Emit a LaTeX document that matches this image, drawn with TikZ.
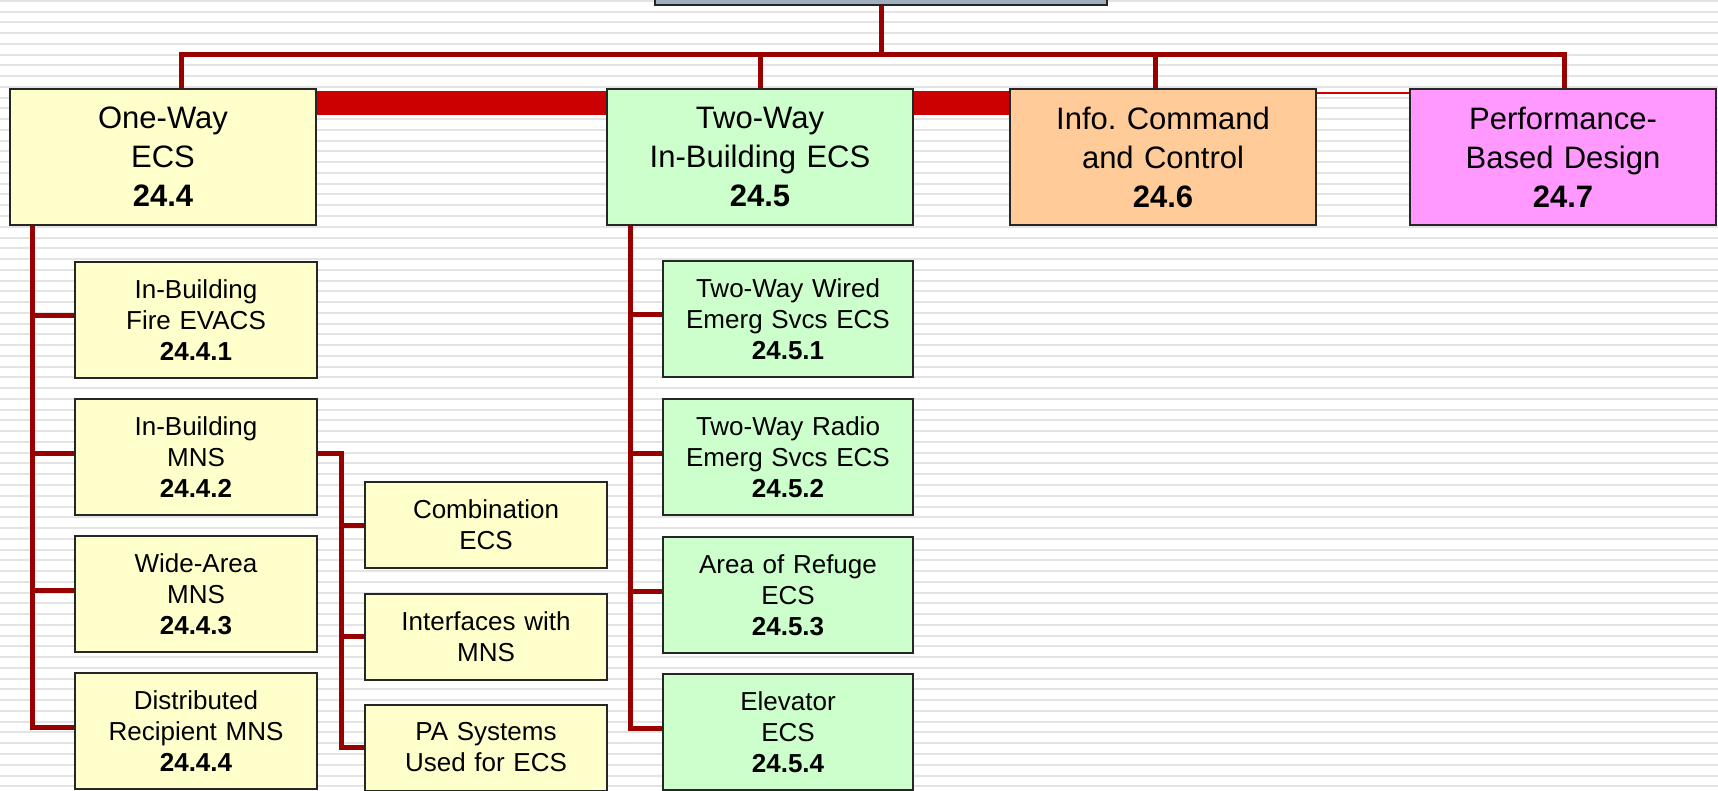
\documentclass[tikz,border=0pt]{standalone}
\usepackage{fontspec}
\setmainfont{Liberation Sans}
\frenchspacing
\definecolor{linkred}{HTML}{990000}
\definecolor{barred}{HTML}{CC0000}
\definecolor{paleyellow}{HTML}{FFFFCC}
\definecolor{palegreen}{HTML}{CCFFCC}
\definecolor{paleorange}{HTML}{FFCC99}
\definecolor{palepink}{HTML}{FF99FF}
\definecolor{rootgrey}{HTML}{A0AFBE}
\definecolor{stripegrey}{HTML}{E4E4E4}
\tikzset{
  box/.style={draw=black!85, line width=2pt, rectangle, inner sep=0pt, align=center},
  mainbox/.style={box, minimum width=306pt, minimum height=136pt, text width=300pt,
    font=\fontsize{31}{39}\selectfont},
  subbox/.style={box, minimum width=242pt, minimum height=116pt, text width=236pt,
    font=\fontsize{26}{31}\selectfont},
  link/.style={linkred, line width=5pt},
}
\begin{document}
\begin{tikzpicture}[x=1pt,y=-1pt]
\useasboundingbox (0,0) rectangle (1718,791);
\clip (0,0) rectangle (1718,791);
\fill[white] (0,0) rectangle (1718,791);

% background stripes
\foreach \k in {0,...,73}
  \draw[stripegrey, line width=2pt] (0,{0.8+\k*10.76}) -- (1718,{0.8+\k*10.76});

% top row
\node[box, fill=rootgrey, minimum width=452pt, minimum height=60pt] (root) at (881,-25) {};
\node[mainbox, fill=paleyellow] (oneway) at (163,157) {One-Way\\ECS\\\textbf{24.4}};
\node[mainbox, fill=palegreen] (twoway) at (760,157) {Two-Way\\In-Building ECS\\\textbf{24.5}};
\node[mainbox, fill=paleorange] (info) at (1163,157) {Info. Command\\and Control\\\textbf{24.6}};
\node[mainbox, fill=palepink] (perf) at (1563,157) {Performance-\\Based Design\\\textbf{24.7}};

% one-way column
\node[subbox, fill=paleyellow] (a1) at (196,320) {In-Building\\Fire EVACS\\\textbf{24.4.1}};
\node[subbox, fill=paleyellow] (a2) at (196,457) {In-Building\\MNS\\\textbf{24.4.2}};
\node[subbox, fill=paleyellow] (a3) at (196,594) {Wide-Area\\MNS\\\textbf{24.4.3}};
\node[subbox, fill=paleyellow] (a4) at (196,731) {Distributed\\Recipient MNS\\\textbf{24.4.4}};

% mns column
\node[subbox, fill=paleyellow, minimum height=86pt] (s1) at (486,525) {Combination\\ECS};
\node[subbox, fill=paleyellow, minimum height=86pt] (s2) at (486,636.5) {Interfaces with\\MNS};
\node[subbox, fill=paleyellow, minimum height=86pt] (s3) at (486,747.5) {PA Systems\\Used for ECS};

% two-way column
\node[subbox, fill=palegreen, minimum width=250pt] (b1) at (788,319) {Two-Way Wired\\Emerg Svcs ECS\\\textbf{24.5.1}};
\node[subbox, fill=palegreen, minimum width=250pt] (b2) at (788,457) {Two-Way Radio\\Emerg Svcs ECS\\\textbf{24.5.2}};
\node[subbox, fill=palegreen, minimum width=250pt] (b3) at (788,595) {Area of Refuge\\ECS\\\textbf{24.5.3}};
\node[subbox, fill=palegreen, minimum width=250pt] (b4) at (788,732) {Elevator\\ECS\\\textbf{24.5.4}};

% links from the root
\draw[link] (root.south) -- ++(0,51);
\draw[link] ([xshift=18pt]oneway.north) -- ++(0,-33) -| ([xshift=1pt]perf.north);
\draw[link] (twoway.north) -- ++(0,-33);
\draw[link] ([xshift=-8pt]info.north) -- ++(0,-33);

% bars between the top boxes
\draw[barred, line width=24pt] ([yshift=-15pt]oneway.north east) -- ([yshift=-15pt]twoway.north west);
\draw[barred, line width=24pt] ([yshift=-15pt]twoway.north east) -- ([yshift=-15pt]info.north west);
\draw[barred, line width=2.5pt] ([yshift=-5pt]info.north east) -- ([yshift=-5pt]perf.north west);

% trunks
\foreach \n in {a1,a2,a3,a4}
  \draw[link] ([xshift=23pt]oneway.south west) |- ([yshift=4pt]\n.west);
\foreach \n in {b1,b2,b3,b4}
  \draw[link] ([xshift=24pt]twoway.south west) |- ([yshift=4pt]\n.west);
\foreach \n in {s1,s2,s3}
  \draw[link] ([yshift=4pt]a2.east) -- ++(23,0) |- (\n.west);
\end{tikzpicture}
\end{document}
